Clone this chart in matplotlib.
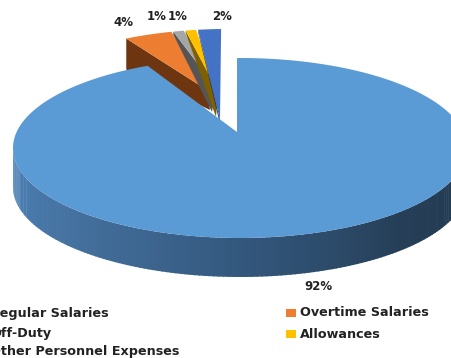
import numpy as np
import matplotlib
matplotlib.use('Agg')
import matplotlib.pyplot as plt
from matplotlib.patches import Polygon, Rectangle
from matplotlib.colors import LinearSegmentedColormap

labels = ['Regular Salaries', 'Overtime Salaries', 'Off-Duty', 'Allowances', 'Other Personnel Expenses']
values = [92, 4, 1, 1, 2]
colors = ['#5B9BD5', '#ED7D31', '#A5A5A5', '#FFC000', '#4472C4']
wall_colors = ['#2E6596', '#6E3610', '#555555', '#7F6000', '#1F3864']

# pie geometry in pixels, y pointing down
CX, CY, RX, RY = 240, 148, 227, 90
APEX = (237, 132)
DEPTH = 39
MAIN_START = -0.75
MAIN_DEG_PER_PCT = 3.66

# the four small slices are pulled out up and to the left
SX, SY, SRX, SRY = 227, 119, 225, 90
S_APEXES = [(207, 90), (216, 88), (218, 92), (220, 120)]
S_WALL_APEXES = [(210, 110), (212, 112), (216, 117), (219, 120)]
S_DEPTHS = [31, 3, 2, 2]
S_DEG_PER_PCT = 3.2
S_GAP = 0.5
S_END = 359

label_pos = [(123, 23), (157, 17), (178, 17), (222, 17)]
main_label_pos = (318, 287)
legend_pos = [(-10, 313), (300, 313), (-10, 334), (300, 334), (-10, 352)]


def rim(phi, cx, cy, rx, ry):
    phi = np.radians(phi)
    return cx + rx * np.sin(phi), cy - ry * np.cos(phi)


fig = plt.figure(figsize=(4.51, 3.58), dpi=100)
ax = fig.add_axes([0, 0, 1, 1])
ax.set_xlim(0, 451)
ax.set_ylim(358, 0)
ax.axis('off')

# small slices, clockwise from the end of the big one
start = S_END - sum(values[1:]) * S_DEG_PER_PCT
for i, v in enumerate(values[1:]):
    end = start + v * S_DEG_PER_PCT
    x0, y0 = rim(start, SX, SY, SRX, SRY)
    face = [(x0, y0), (x0, y0 + S_DEPTHS[i]), S_WALL_APEXES[i], S_APEXES[i]]
    ax.add_patch(Polygon(face, closed=True, fc=wall_colors[i + 1], ec='none'))
    phis = np.linspace(start, end - S_GAP, 12)
    xs, ys = rim(phis, SX, SY, SRX, SRY)
    top = [S_APEXES[i]] + list(zip(xs, ys))
    ax.add_patch(Polygon(top, closed=True, fc=colors[i + 1], ec='none'))
    start = end

# side wall of the big slice, shaded along the rim
wall_cmap = LinearSegmentedColormap.from_list('wall', ['#22394F', '#263F58', '#34597F', '#45719F', '#4C84BA'])
steps = np.linspace(90, 272, 150)
for a, b in zip(steps[:-1], steps[1:]):
    xa, ya = rim(a, CX, CY, RX, RY)
    xb, yb = rim(b + 0.3, CX, CY, RX, RY)
    t = (a - 90) / 182
    ax.add_patch(Polygon([(xa, ya), (xb, yb), (xb, yb + DEPTH), (xa, ya + DEPTH)],
                         closed=True, fc=wall_cmap(t), ec='none'))

# top of the big slice
main_end = MAIN_START + values[0] * MAIN_DEG_PER_PCT
phis = np.linspace(MAIN_START, main_end, 300)
xs, ys = rim(phis, CX, CY, RX, RY)
ax.add_patch(Polygon([APEX] + list(zip(xs, ys)), closed=True, fc=colors[0], ec='none'))

for v, (x, y) in zip(values, [main_label_pos] + label_pos):
    ax.text(x, y, '%d%%' % v, ha='center', va='center', fontsize=8.5,
            fontweight='bold', color='#222222')

# legend entries, the left column runs off the canvas
for name, c, (x, y) in zip(labels, colors, legend_pos):
    ax.add_patch(Rectangle((x - 14, y - 4), 10, 8, fc=c, ec='none'))
    ax.text(x, y, name, ha='left', va='center', fontsize=9.2, fontweight='bold', color='#222222')

fig.savefig('out.png', dpi=100)
